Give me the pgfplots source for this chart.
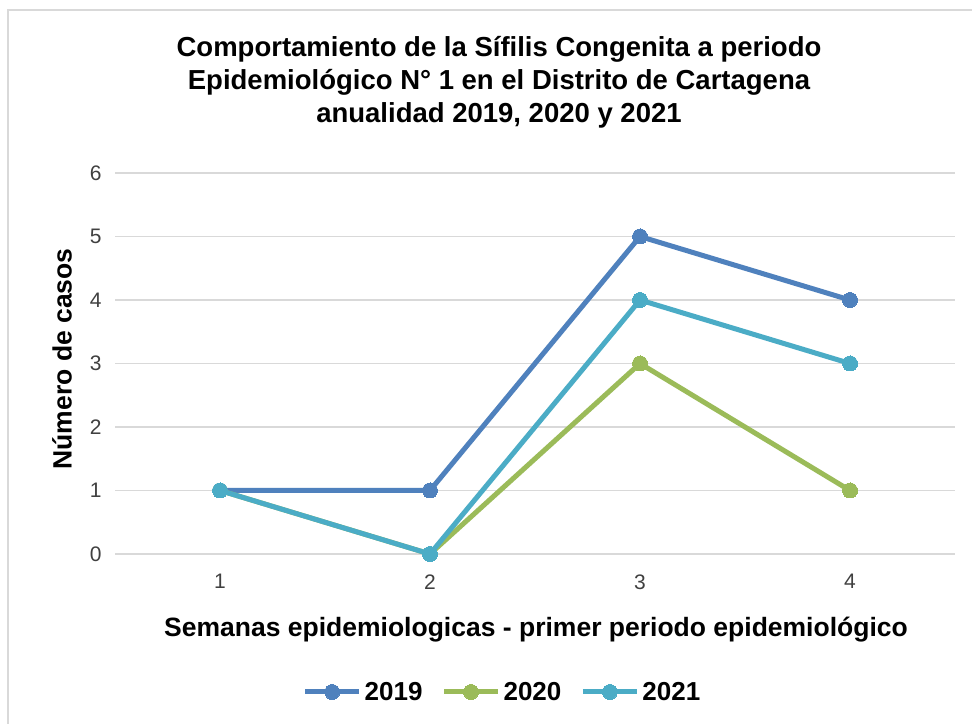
\documentclass[border=0pt]{standalone}
\usepackage{pgfplots}
\pgfplotsset{compat=1.18}
\usepackage{fontspec}
\setmainfont{Liberation Sans}
\definecolor{c19}{RGB}{79,129,189}
\definecolor{c20}{RGB}{155,187,89}
\definecolor{c21}{RGB}{75,172,198}
\definecolor{gridc}{RGB}{217,217,217}
\begin{document}
\begin{tikzpicture}[x=1pt,y=1pt]
\path[use as bounding box] (0,0) rectangle (972,723);
\fill[white] (0,0) rectangle (972,723);
\draw[gridc, line width=1.5pt] (8,-5) -- (8,713) -- (980,713);
\begin{axis}[
  at={(115pt,169pt)}, anchor=south west,
  scale only axis, width=840pt, height=381pt,
  xmin=0.5, xmax=4.5, ymin=0, ymax=6,
  xtick={1,2,3,4}, ytick={0,1,2,3,4,5,6},
  axis line style={draw=none},
  major tick length=0pt,
  ymajorgrids, grid style={gridc, line width=1.3pt},
  tick label style={font=\fontsize{21}{21}\selectfont, text=black!75},
  /pgf/number format/assume math mode=true,
  yticklabel style={xshift=-10pt},
  xticklabel style={yshift=-17pt},
  legend columns=3,
  legend style={draw=none, at={(0.4607,-0.3622)}, anchor=center,
    font=\bfseries\fontsize{26}{26}\selectfont,
    nodes={inner sep=1pt},
    /tikz/every odd column/.append style={column sep=2pt},
    /tikz/every even column/.append style={column sep=18pt}},
  legend cell align=left,
  legend image code/.code={\draw[mark repeat=2,mark phase=2] plot coordinates {(0pt,0pt) (27pt,0pt) (54pt,0pt)};},
  every axis plot/.append style={line width=5pt, mark=*, mark size=7.5pt, mark options={line width=0pt}},
  clip=false,
]
\addplot[color=c19] coordinates {(1,1) (2,1) (3,5) (4,4)};
\addlegendentry{2019}
\addplot[color=c20] coordinates {(1,1) (2,0) (3,3) (4,1)};
\addlegendentry{2020}
\addplot[color=c21] coordinates {(1,1) (2,0) (3,4) (4,3)};
\addlegendentry{2021}
\end{axis}
\node[font=\bfseries\fontsize{27.5}{33}\selectfont, align=center] at (499,641) {Comportamiento de la Sífilis Congenita a periodo\\Epidemiológico N° 1 en el Distrito de Cartagena\\anualidad 2019, 2020 y 2021};
\node[font=\bfseries\fontsize{26.5}{26.5}\selectfont, rotate=90] at (62,364) {Número de casos};
\node[font=\bfseries\fontsize{26.5}{26.5}\selectfont] at (536,93) {Semanas epidemiologicas - primer periodo epidemiológico};
\end{tikzpicture}
\end{document}
